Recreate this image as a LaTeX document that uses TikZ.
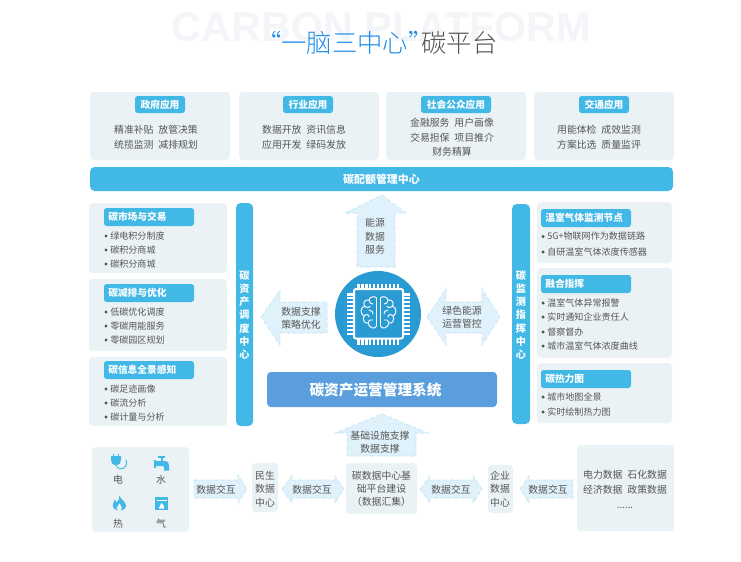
\documentclass[tikz,border=0pt]{standalone}
\usepackage{fontspec}
\setmainfont{Noto Sans CJK SC}
\newfontfamily\thinfont{Noto Sans CJK SC Light}
\newfontfamily\wmfont{Liberation Sans}
\definecolor{cardc}{HTML}{EBF2F6}
\definecolor{tabc}{HTML}{41B8E6}
\definecolor{txtc}{HTML}{555555}
\definecolor{arrf}{HTML}{DFF1FB}
\definecolor{arrd}{HTML}{C4E4F5}
\definecolor{sysc}{HTML}{5A9EDE}
\definecolor{chipc}{HTML}{2A9BD2}
\definecolor{titleb}{HTML}{1E8CE8}
\definecolor{wmc}{HTML}{F3F5F9}
\newcommand{\bodysize}{\fontsize{7.4}{11}\selectfont}
\newcommand{\gp}{\hspace{3.6pt}}
\tikzset{
  x=0.75pt,y=-0.75pt,
  cardbox/.style={fill=cardc,draw=none,rounded corners=3pt},
  tabbox/.style={fill=tabc,draw=none,rounded corners=2pt},
  barbox/.style={fill=tabc,draw=none,rounded corners=3.5pt},
  bodytxt/.style={text=txtc,font=\bodysize,align=center,inner sep=0pt},
  itemtxt/.style={text=txtc,font=\fontsize{6.8}{9}\selectfont,anchor=west,inner sep=0pt},
  tabtxt/.style={text=white,font=\fontsize{7.3}{9}\selectfont\bfseries,inner sep=0pt},
  tablft/.style={tabtxt,anchor=west},
  vbartxt/.style={text=white,font=\fontsize{7.6}{9.8}\selectfont\bfseries,align=center,inner sep=0pt},
  arrowbox/.style={fill=arrf,draw=arrd,line width=0.5pt,densely dashed,line join=miter},
  dotm/.style={circle,fill=txtc,draw=none,inner sep=0pt,minimum size=2.6pt},
  iconfill/.style={fill=tabc,draw=none},
  chipline/.style={draw=white,line width=0.7pt,line join=round,line cap=round},
}
\begin{document}
\begin{tikzpicture}
\useasboundingbox (0,0) rectangle (741,561);
\fill[white] (0,0) rectangle (741,561);
% title
\node[text=wmc,font=\wmfont\fontsize{31}{36}\selectfont\bfseries,inner sep=0pt] (wm) at (381.5,27) {CARBON PLATFORM};
\node[font=\thinfont\fontsize{19}{22}\selectfont,inner sep=0pt,anchor=west] (title) at (256,43) {\textcolor{titleb}{“一脑三中心”}\hspace{-9pt}\textcolor{txtc}{碳平台}};
% top cards
\fill[cardbox] (90,92) rectangle (230,160);
\fill[cardbox] (239,92) rectangle (379,160);
\fill[cardbox] (386,92) rectangle (526,160);
\fill[cardbox] (534,92) rectangle (674,160);
\fill[tabbox] (135,96) rectangle (185,113);
\fill[tabbox] (283,96) rectangle (333,113);
\fill[tabbox] (421,96) rectangle (491,113);
\fill[tabbox] (579,96) rectangle (629,113);
\node[tabtxt] (t1) at (160,104.5) {政府应用};
\node[tabtxt] (t2) at (308,104.5) {行业应用};
\node[tabtxt] (t3) at (456,104.5) {社会公众应用};
\node[tabtxt] (t4) at (604,104.5) {交通应用};
\node[bodytxt] (c1) at (156,137.5) {精准补贴\gp{}放管决策\\统揽监测\gp{}减排规划};
\node[bodytxt] (c2) at (304,137.5) {数据开放\gp{}资讯信息\\应用开发\gp{}绿码发放};
\node[bodytxt] (c3) at (452,137.5) {金融服务\gp{}用户画像\\交易担保\gp{}项目推介\\财务精算};
\node[bodytxt] (c4) at (599,137.5) {用能体检\gp{}成效监测\\方案比选\gp{}质量监评};
% quota bar
\fill[barbox] (90,167) rectangle (673,191);
\node[tabtxt,font=\fontsize{8.2}{9}\selectfont\bfseries] (quota) at (381.5,179.5) {碳配额管理中心};
% left cards
\fill[cardbox] (89,203) rectangle (227,273);
\fill[cardbox] (89,279) rectangle (227,351);
\fill[cardbox] (89,357) rectangle (227,426);
\fill[tabbox] (104,208) rectangle (194,226);
\fill[tabbox] (104,284) rectangle (194,302);
\fill[tabbox] (104,361) rectangle (194,379);
\node[tablft] (l1) at (108,217) {碳市场与交易};
\node[tablft] (l2) at (108,293) {碳减排与优化};
\node[tablft] (l3) at (108,370) {碳信息全景感知};
\foreach \yy/\tx/\nn in {236/绿电积分制度/la,250/碳积分商城/lb,264/碳积分商城/lc,312/低碳优化调度/ld,326/零碳用能服务/le,340/零碳园区规划/lf,389/碳足迹画像/lg,403/碳流分析/lh,417/碳计量与分析/li}{
  \node[dotm] (\nn d) at (106,\yy) {};
  \node[itemtxt] (\nn) at (110,\yy) {\tx};
}
% vertical bars
\fill[barbox] (236,203) rectangle (253,426);
\fill[barbox] (512,204) rectangle (530,424);
\node[vbartxt] (vl) at (244.5,315) {碳\\资\\产\\调\\度\\中\\心};
\node[vbartxt] (vr) at (521,315) {碳\\监\\测\\指\\挥\\中\\心};
% right cards
\fill[cardbox] (537,202) rectangle (672,263);
\fill[cardbox] (537,268) rectangle (672,358);
\fill[cardbox] (537,363) rectangle (672,423);
\fill[tabbox] (541,209) rectangle (631,227);
\fill[tabbox] (541,275) rectangle (631,293);
\fill[tabbox] (541,370) rectangle (631,388);
\node[tablft] (r1) at (545,218) {温室气体监测节点};
\node[tablft] (r2) at (545,284) {融合指挥};
\node[tablft] (r3) at (545,379) {碳热力图};
\foreach \yy/\tx/\nn in {236.5/5G+物联网作为数据链路/ra,252/自研温室气体浓度传感器/rb,303/温室气体异常报警/rc,317/实时通知企业责任人/rd,332/督察督办/re,346/城市温室气体浓度曲线/rf,397/城市地图全景/rg,412/实时绘制热力图/rh}{
  \node[dotm] (\nn d) at (543,\yy) {};
  \node[itemtxt] (\nn) at (547,\yy) {\tx};
}
% block arrows
\draw[arrowbox] (382,195) -- (406,213) -- (395,213) -- (395,267) -- (357,267) -- (357,213) -- (345,213) -- cycle;
\node[bodytxt,font=\fontsize{7.4}{10}\selectfont] (aup) at (375,236.5) {能源\\数据\\服务};
\draw[arrowbox] (261,317) -- (280,290) -- (280,302) -- (327,302) -- (327,333) -- (280,333) -- (280,345) -- cycle;
\node[bodytxt,font=\fontsize{7.4}{10}\selectfont] (alf) at (301,318) {数据支撑\\策略优化};
\draw[arrowbox] (427,317) -- (446,289) -- (446,302) -- (482,302) -- (482,289) -- (500,317) -- (482,345) -- (482,333) -- (446,333) -- (446,345) -- cycle;
\node[bodytxt,font=\fontsize{7.4}{10}\selectfont] (adb) at (462,317) {绿色能源\\运营管控};
% chip
\fill[chipc] (378,314) circle[radius=43];
\foreach \i in {0,...,10}{
  \fill[white] ({357.3+\i*3.95},283.5) rectangle ({359.6+\i*3.95},290);
  \fill[white] ({357.3+\i*3.95},337) rectangle ({359.6+\i*3.95},344.5);
  \fill[white] (347,{293.2+\i*3.95}) rectangle (355,{295.5+\i*3.95});
  \fill[white] (402,{293.2+\i*3.95}) rectangle (410,{295.5+\i*3.95});
}
\draw[white,line width=1.5pt,fill=chipc,rounded corners=1.5pt] (354,289) rectangle (403,338.5);
\foreach \sx/\ox in {1/377,-1/380}{
\begin{scope}[shift={(\ox,313)},xscale=\sx]
  \draw[chipline] (-0.5,-15) .. controls (-2,-17) and (-7,-17) .. (-8,-13) .. controls (-12,-14) and (-14.5,-10) .. (-12.5,-7) .. controls (-17,-5) and (-17,1) .. (-13,3) .. controls (-15,7) and (-12,11) .. (-9,10) .. controls (-8,15) and (-2,17) .. (-0.5,13) -- cycle;
  \draw[chipline] (-8,-13) .. controls (-8,-10) and (-6,-9) .. (-4,-9);
  \draw[chipline] (-12.5,-7) .. controls (-10,-5) and (-8,-5) .. (-7,-6.5);
  \draw[chipline] (-8,-3) .. controls (-5,-3) and (-4,-1) .. (-4,1);
  \draw[chipline] (-13,3) .. controls (-11,1) and (-8,1) .. (-8,4);
  \draw[chipline] (-9,10) .. controls (-8,7) and (-6,6) .. (-4,7);
\end{scope}}
% system bar
\fill[sysc,rounded corners=3pt] (267,372) rectangle (497,407);
\node[text=white,font=\fontsize{11}{13}\selectfont\bfseries,inner sep=0pt] (sys) at (375.5,389.5) {碳资产运营管理系统};
% bottom
\draw[arrowbox] (382,414) -- (428,433) -- (416,433) -- (416,456) -- (347,456) -- (347,433) -- (335,433) -- cycle;
\node[bodytxt,font=\fontsize{7.4}{9.8}\selectfont] (abot) at (380,442.5) {基础设施支撑\\数据支撑};
\fill[cardbox] (92,447) rectangle (189,532);
\fill[cardbox] (252,463) rectangle (278,512);
\fill[cardbox] (346,463) rectangle (417,514);
\fill[cardbox] (488,465) rectangle (513,513);
\fill[cardbox] (577,445) rectangle (674,531);
\node[bodytxt] (ee) at (118,480) {电};
\node[bodytxt] (ss) at (161,480) {水};
\node[bodytxt] (hh) at (118,524) {热};
\node[bodytxt] (qq) at (161,524) {气};
\node[bodytxt,font=\fontsize{7.4}{10}\selectfont] (ms) at (265,489) {民生\\数据\\中心};
\node[bodytxt,font=\fontsize{7.4}{9.8}\selectfont] (hub) at (381.5,489) {碳数据中心基\\础平台建设\\（数据汇集）};
\node[bodytxt,font=\fontsize{7.4}{10}\selectfont] (qy) at (500,489) {企业\\数据\\中心};
\node[bodytxt,font=\fontsize{7.4}{11}\selectfont] (src) at (625,489.5) {电力数据\gp{}石化数据\\经济数据\gp{}政策数据\\......};
\draw[arrowbox] (194,480) -- (238,480) -- (238,475) -- (247,489) -- (238,503) -- (238,498) -- (194,498) -- cycle;
\node[bodytxt] (x1) at (216,490) {数据交互};
\draw[arrowbox] (282,489) -- (292,476) -- (292,480) -- (335,480) -- (335,476) -- (344,489) -- (335,503) -- (335,498) -- (292,498) -- (292,503) -- cycle;
\node[bodytxt] (x2) at (312,490) {数据交互};
\draw[arrowbox] (420,489) -- (430,476) -- (430,480) -- (473,480) -- (473,476) -- (482,489) -- (473,503) -- (473,498) -- (430,498) -- (430,503) -- cycle;
\node[bodytxt] (x3) at (451,490) {数据交互};
\draw[arrowbox] (520,489) -- (529,476) -- (529,480) -- (573,480) -- (573,498) -- (529,498) -- (529,503) -- cycle;
\node[bodytxt] (x4) at (548,490) {数据交互};
% icon: plug
\fill[iconfill] (111,456) -- (121,456) -- (121,460) .. controls (121,463) and (119,465.5) .. (116,465.5) .. controls (113,465.5) and (111,463) .. (111,460) -- cycle;
\fill[iconfill] (112.5,453.5) rectangle (114.3,456);
\fill[iconfill] (117.5,453.5) rectangle (119.3,456);
\draw[tabc,line width=0.7pt] (116,465.5) .. controls (118,469.5) and (123,470) .. (125.5,466.5) .. controls (127,464.5) and (127,462) .. (126,459.5);
% icon: faucet
\fill[iconfill] (158,456) rectangle (165,458);
\fill[iconfill] (160.5,458) rectangle (162.5,461);
\fill[iconfill] (154,460) rectangle (156,467.5);
\fill[iconfill] (156,461) -- (165,461) .. controls (168,461) and (169,463) .. (169,465.5) -- (169,470.5) -- (164,470.5) -- (164,467) .. controls (164,466.3) and (163.5,466) .. (163,466) -- (156,466) -- cycle;
% icon: flame
\fill[iconfill,even odd rule] (119.5,495.7) .. controls (120.5,499.5) and (126.5,502) .. (126,506) .. controls (125.5,508.5) and (124,510) .. (122,510) -- (117,510) .. controls (114.5,510) and (112.7,508) .. (112.7,505.5) .. controls (112.7,503) and (114,502) .. (114.7,499.5) .. controls (116,500.5) and (116.5,501.5) .. (116.7,502.5) .. controls (118,501) and (119.8,499) .. (119.5,495.7) -- cycle
  (119.5,503) .. controls (120,505) and (122,506) .. (122,508) .. controls (122,509) and (121,510) .. (120,510) -- (118.5,510) .. controls (117,510) and (116.5,509) .. (116.5,508) .. controls (116.5,506.5) and (119,505) .. (119.5,503) -- cycle;
% icon: gas
\fill[iconfill] (155,497) rectangle (168.3,510.3);
\fill[white] (156.5,499.8) rectangle (166.8,500.9);
\fill[white] (161.7,503) .. controls (163,504.5) and (164.5,506) .. (164.2,507.5) -- (164.2,508.5) -- (159.2,508.5) -- (159.2,507.5) .. controls (159,506) and (160.8,505) .. (161.7,503) -- cycle;
\end{tikzpicture}
\end{document}
